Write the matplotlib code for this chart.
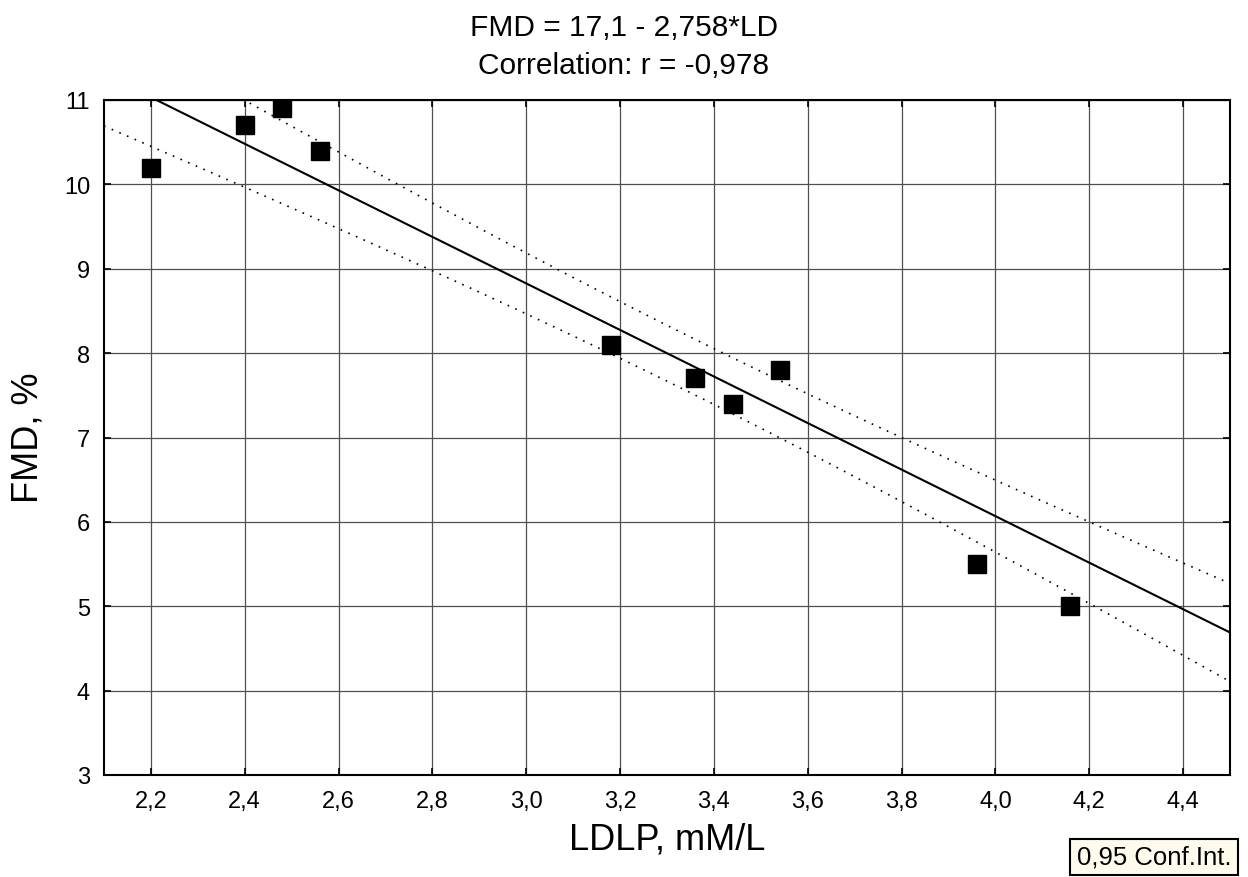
import numpy as np
import matplotlib.pyplot as plt

plt.rcParams['font.family'] = ['Liberation Sans', 'DejaVu Sans']

# data
ldlp = [2.20, 2.40, 2.48, 2.56, 3.18, 3.36, 3.44, 3.54, 3.96, 4.16]
fmd = [10.2, 10.7, 10.9, 10.4, 8.1, 7.7, 7.4, 7.8, 5.5, 5.0]
intercept = 17.1
slope = -2.758
x_ticks = [2.2, 2.4, 2.6, 2.8, 3.0, 3.2, 3.4, 3.6, 3.8, 4.0, 4.2, 4.4]
y_ticks = [3, 4, 5, 6, 7, 8, 9, 10, 11]

# fit statistics behind the 0.95 band (estimated from the drawn band)
n_fit = 10
x_mean_fit = 3.35
sxx_fit = 6.3
s_resid = 0.4525
t_crit = 2.306  # t(0.975, 8)

xs = np.linspace(2.1, 4.5, 300)
ys = intercept + slope * xs
half = t_crit * s_resid * np.sqrt(1 / n_fit + (xs - x_mean_fit) ** 2 / sxx_fit)

fig = plt.figure(figsize=(12.48, 8.78), dpi=100)
ax = fig.add_axes([104 / 1248, 1 - 776 / 878, (1230 - 104) / 1248, (776 - 101) / 878])

ax.plot(xs, ys, color='black', lw=1.5)
ax.plot(xs, ys + half, color='black', lw=1.2, linestyle=(0, (1, 4)))
ax.plot(xs, ys - half, color='black', lw=1.2, linestyle=(0, (1, 4)))
ax.plot(ldlp, fmd, 's', color='black', markersize=13, zorder=5)

ax.set_xlim(2.1, 4.5)
ax.set_ylim(3, 11)
ax.set_xticks(x_ticks)
ax.set_yticks(y_ticks)
ax.set_xticklabels([f'{v:.1f}'.replace('.', ',') for v in x_ticks])
ax.set_yticklabels([str(v) for v in y_ticks])
ax.grid(True, color='#505050', lw=0.9)
ax.tick_params(direction='in', top=True, right=True, labelsize=17, length=5, width=1.2)
ax.tick_params(axis='x', pad=11)
ax.tick_params(axis='y', pad=10)
for sp in ax.spines.values():
    sp.set_linewidth(1.5)

# titles and axis labels
fig.text(624 / 1248, 1 - 36 / 878, 'FMD = 17,1 - 2,758*LD', fontsize=21.5, ha='center', va='baseline')
fig.text(624 / 1248, 1 - 74 / 878, 'Correlation: r = -0,978', fontsize=21.5, ha='center', va='baseline')
fig.text(667 / 1248, 1 - 840 / 878, 'LDLP, mM/L', fontsize=26, ha='center', va='center')
fig.text(28 / 1248, 1 - 438 / 878, 'FMD, %', fontsize=26, ha='center', va='center', rotation=90)

fig.text(1154 / 1248, 1 - 858 / 878, '0,95 Conf.Int.', fontsize=18.5, ha='center', va='center',
         bbox=dict(boxstyle='square,pad=0.25', facecolor='#FFFCEE', edgecolor='black', lw=1.5))

fig.savefig('out.png', dpi=100)
